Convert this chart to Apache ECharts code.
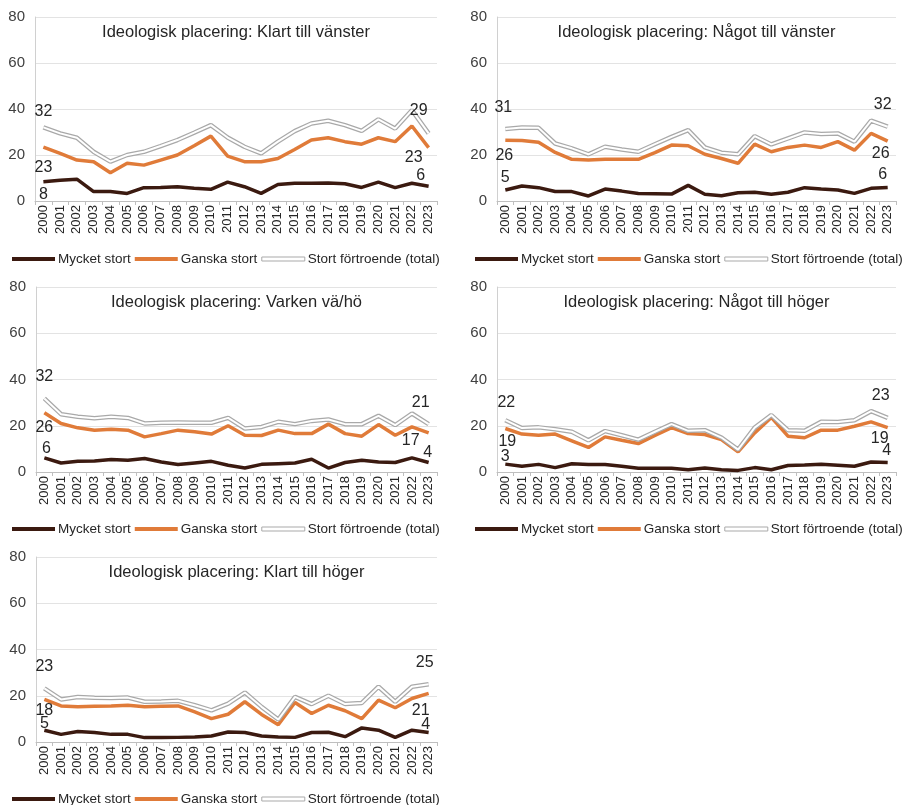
<!DOCTYPE html>
<html><head><meta charset="utf-8">
<script src="https://cdn.jsdelivr.net/npm/echarts@6/dist/echarts.min.js"></script>
<style>html,body{margin:0;padding:0;background:#fff}#c{width:904px;height:805px}</style>
</head><body><div id="c"></div>
<script>
const years = ['2000','2001','2002','2003','2004','2005','2006','2007','2008','2009','2010','2011','2012','2013','2014','2015','2016','2017','2018','2019','2020','2021','2022','2023'];
const yTicks = [0, 20, 40, 60, 80];
const seriesNames = ['Mycket stort', 'Ganska stort', 'Stort förtroende (total)'];
const titles = [
  'Ideologisk placering: Klart till vänster',
  'Ideologisk placering: Något till vänster',
  'Ideologisk placering: Varken vä/hö',
  'Ideologisk placering: Något till höger',
  'Ideologisk placering: Klart till höger'
];

const p1Mycket = [8.4,9.0,9.5,4.1,4.1,3.3,5.8,5.9,6.2,5.5,5.1,8.2,6.2,3.3,7.2,7.7,7.7,7.8,7.5,5.9,8.2,5.8,7.7,6.4];
const p1Ganska = [23.4,20.7,17.8,17.1,12.3,16.4,15.6,17.8,20.0,24.0,28.2,19.5,17.1,17.1,18.5,22.4,26.5,27.5,25.8,24.7,27.5,25.8,32.6,23.2];
const p1Total  = [32.0,29.4,27.5,21.4,17.1,20.0,21.4,23.9,26.5,29.7,33.0,27.6,23.6,20.7,25.8,30.4,33.7,34.9,33.0,30.5,35.5,31.5,39.5,29.4];

const p2Mycket = [4.8,6.5,5.8,4.1,4.1,2.2,5.2,4.3,3.3,3.2,3.0,6.8,2.9,2.3,3.6,3.8,2.9,3.8,5.8,5.2,4.8,3.3,5.5,5.9];
const p2Ganska = [26.4,26.3,25.5,21.1,18.1,17.8,18.1,18.1,18.1,21.0,24.3,24.0,20.3,18.5,16.4,24.7,21.4,23.3,24.3,23.3,25.8,22.1,29.4,26.0];
const p2Total  = [31.3,32.0,31.8,25.0,22.9,20.3,23.6,22.4,21.4,24.7,27.9,30.8,23.3,21.0,20.3,28.2,24.6,27.2,29.8,29.1,29.4,25.8,34.9,32.3];

const p3Mycket = [6.1,3.9,4.6,4.8,5.4,5.1,5.8,4.3,3.2,3.9,4.6,2.9,1.7,3.3,3.6,3.9,5.5,1.7,4.1,5.1,4.3,4.1,6.1,4.1];
const p3Ganska = [25.6,21.0,19.1,18.1,18.5,18.1,15.2,16.6,18.1,17.4,16.4,20.0,15.9,15.8,18.1,16.6,16.6,20.7,16.6,15.5,20.5,15.9,19.5,16.9];
const p3Total  = [31.8,25.0,23.9,23.2,23.9,23.4,21.0,21.3,21.4,21.3,21.3,23.4,18.8,19.5,21.7,20.7,22.1,22.7,20.7,20.7,24.3,20.3,25.3,20.7];

const p4Mycket = [3.4,2.5,3.3,1.9,3.6,3.2,3.2,2.5,1.6,1.6,1.6,1.0,1.7,1.0,0.7,1.9,1.0,2.8,3.0,3.3,2.9,2.5,4.3,4.1];
const p4Ganska = [18.8,16.4,15.9,16.4,13.5,10.6,15.2,13.7,12.3,15.8,19.2,16.6,16.2,14.0,8.7,16.9,23.6,15.5,14.8,18.1,18.1,19.8,21.7,19.2];
const p4Total  = [22.4,19.0,19.3,18.5,17.4,13.7,17.7,15.9,14.0,17.4,20.7,17.8,18.1,14.9,9.7,19.2,24.6,18.1,17.8,21.7,21.6,22.4,26.3,23.4];

const p5Mycket = [5.1,3.3,4.5,4.1,3.3,3.3,1.9,1.9,2.0,2.2,2.6,4.3,4.1,2.6,2.2,2.0,4.1,4.2,2.3,6.1,5.1,2.0,5.1,4.1];
const p5Ganska = [18.4,15.6,15.2,15.5,15.6,15.9,15.2,15.5,15.6,13.0,10.1,12.0,17.4,11.9,7.5,17.1,12.3,15.9,13.5,10.1,18.1,14.8,18.8,21.0];
const p5Total  = [23.2,18.4,19.5,19.1,19.0,19.2,17.4,17.5,17.8,15.9,13.7,16.6,21.4,15.2,9.7,19.5,16.4,20.0,16.4,16.9,23.9,17.4,23.9,25.0];

const panels = [
  {m: p1Mycket, g: p1Ganska, t: p1Total},
  {m: p2Mycket, g: p2Ganska, t: p2Total},
  {m: p3Mycket, g: p3Ganska, t: p3Total},
  {m: p4Mycket, g: p4Ganska, t: p4Total},
  {m: p5Mycket, g: p5Ganska, t: p5Total}
];

// ---- layout / styling only ----
const grids = [
  {left: 35, top: 17, width: 402, height: 184},
  {left: 497, top: 17, width: 399, height: 184},
  {left: 36, top: 287, width: 401, height: 185},
  {left: 497, top: 287, width: 399, height: 185},
  {left: 36, top: 557, width: 401, height: 185}
];
const legendPos = [
  {left: 12, top: 252}, {left: 475, top: 252},
  {left: 12, top: 522}, {left: 475, top: 522},
  {left: 12, top: 792}
];
// label offsets [dx, dy] from the point, for first and last label: per panel, per series (m, g, t)
const labelOffsets = [
  {m: [[0, 13], [-8, -11]], g: [[0, 20], [-15, 10]], t: [[0, -16], [-10, -23]]},
  {m: [[0, -12], [-5, -13]], g: [[-1, 15], [-7, 12]], t: [[-2, -21], [-5, -22]]},
  {m: [[2, -9], [-1, -10]], g: [[0, 15], [-18, 8]], t: [[0, -22], [-8, -22]]},
  {m: [[0, -8], [-1, -12]], g: [[2, 13], [-8, 11]], t: [[1, -18], [-7, -22]]},
  {m: [[0, -7], [-3, -8]], g: [[0, 11], [-8, 17]], t: [[0, -22], [-4, -22]]}
];

const COL_M = '#3b1a10', COL_G = '#e07b39', COL_TB = '#a9a9a9';
const FONT = '"Liberation Sans", Arial, sans-serif';

function withEndLabels(vals, offs) {
  return vals.map((v, i) => {
    if (i === 0 || i === vals.length - 1) {
      return {
        value: v, symbol: 'circle', symbolSize: 1,
        itemStyle: {color: 'rgba(0,0,0,0)'},
        label: {show: true, position: 'inside', fontSize: 16, color: '#262626', fontFamily: FONT,
          offset: i === 0 ? offs[0] : offs[1],
          formatter: p => String(Math.round(p.value))}
      };
    }
    return v;
  });
}

const option = {
  animation: false,
  backgroundColor: '#fff',
  textStyle: {fontFamily: FONT},
  grid: grids.map(g => Object.assign({containLabel: false}, g)),
  xAxis: grids.map((g, i) => ({
    type: 'category', gridIndex: i, data: years, boundaryGap: true,
    axisLine: {show: true, lineStyle: {color: '#bfbfbf', width: 1}},
    axisTick: {show: true, length: 4, lineStyle: {color: '#bfbfbf'}},
    axisLabel: {interval: 0, rotate: 90, fontSize: 13, color: '#262626', margin: 4, fontFamily: FONT},
    splitLine: {show: false}
  })),
  yAxis: grids.map((g, i) => ({
    type: 'value', gridIndex: i, min: yTicks[0], max: yTicks[yTicks.length - 1], interval: 20,
    axisLine: {show: true, lineStyle: {color: '#d0d0d0', width: 1}},
    axisTick: {show: false},
    axisLabel: {fontSize: 15, color: '#404040', margin: 10, fontFamily: FONT},
    splitLine: {show: true, lineStyle: {color: '#e3e3e3', width: 1}}
  })),
  legend: legendPos.map(p => ({
    left: p.left, top: p.top, width: 460, orient: 'horizontal', selectedMode: false,
    itemWidth: 43, itemHeight: 4, itemGap: 4, padding: 0,
    textStyle: {fontSize: 13.5, color: '#262626', fontFamily: FONT, padding: [0, 0, 0, -2]},
    data: [
      {name: seriesNames[0], icon: 'rect', itemStyle: {color: COL_M, borderWidth: 0}},
      {name: seriesNames[1], icon: 'rect', itemStyle: {color: COL_G, borderWidth: 0}},
      {name: seriesNames[2], icon: 'rect', itemStyle: {color: '#ffffff', borderColor: COL_TB, borderWidth: 1}}
    ]
  })),
  graphic: grids.map((g, i) => ({
    type: 'text',
    x: g.left + g.width / 2, y: g.top + 15,
    style: {text: titles[i], fill: '#262626', fontSize: 16.5, fontFamily: FONT, align: 'center', verticalAlign: 'middle'}
  })),
  series: []
};

panels.forEach((p, i) => {
  const o = labelOffsets[i];
  option.series.push({
    type: 'line', name: seriesNames[0], xAxisIndex: i, yAxisIndex: i,
    data: withEndLabels(p.m, o.m),
    symbol: 'none', lineStyle: {color: COL_M, width: 3.5}, itemStyle: {color: COL_M},
    emphasis: {disabled: true}, z: 3
  });
  option.series.push({
    type: 'line', name: seriesNames[1], xAxisIndex: i, yAxisIndex: i,
    data: withEndLabels(p.g, o.g),
    symbol: 'none', lineStyle: {color: COL_G, width: 3.5}, itemStyle: {color: COL_G},
    emphasis: {disabled: true}, z: 3
  });
  option.series.push({
    type: 'line', name: 'total-border', xAxisIndex: i, yAxisIndex: i,
    data: p.t, symbol: 'none', lineStyle: {color: COL_TB, width: 4.5}, itemStyle: {color: COL_TB},
    emphasis: {disabled: true}, z: 4
  });
  option.series.push({
    type: 'line', name: seriesNames[2], xAxisIndex: i, yAxisIndex: i,
    data: withEndLabels(p.t, o.t),
    symbol: 'none', lineStyle: {color: '#ffffff', width: 2}, itemStyle: {color: '#ffffff'},
    emphasis: {disabled: true}, z: 5
  });
});

const chart = echarts.init(document.getElementById('c'), null, {renderer: 'canvas'});
chart.setOption(option);
</script>
</body></html>
